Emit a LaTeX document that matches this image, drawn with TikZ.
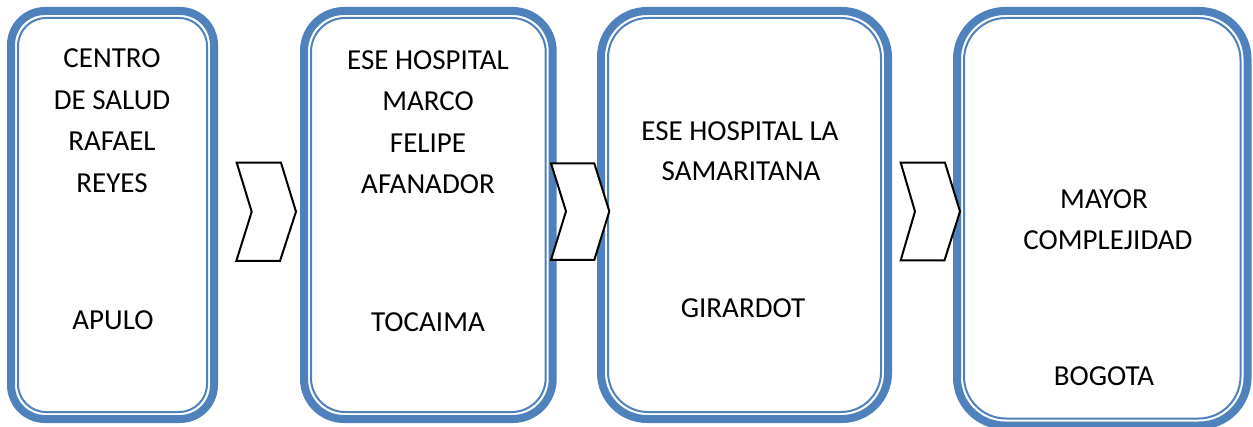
\documentclass[tikz,border=0pt]{standalone}
\usepackage{fontspec}
\setmainfont{Carlito}
\definecolor{boxblue}{HTML}{4F81BD}
\begin{document}
\begin{tikzpicture}[x=0.5pt,y=-0.5pt,
  outerbox/.style={draw=boxblue,line width=4pt,rounded corners=#1,inner sep=0pt,fill=white},
  innerbox/.style={draw=boxblue,line width=1pt,rounded corners=#1},
  chev/.style={draw=black,line width=1pt,fill=white,line join=miter},
  lbl/.style={anchor=base,inner sep=0pt,font=\fontsize{14.5pt}{17pt}\selectfont}]
\useasboundingbox (0,0) rectangle (1253,427);
% boxes
\draw[outerbox=17pt] (11,11) rectangle (214,419);
\draw[innerbox=14pt] (18,18) rectangle (207,412);
\draw[outerbox=20pt] (304,11) rectangle (552.7,419);
\draw[innerbox=17pt] (311,18) rectangle (545.7,412);
\draw[outerbox=23pt] (601,11) rectangle (888,419);
\draw[innerbox=20pt] (608,18) rectangle (881,412);
\draw[outerbox=24pt] (957,11) rectangle (1247.5,425.5);
\draw[innerbox=21pt] (964,18) rectangle (1240.5,418.5);
% chevrons
\draw[chev] (236.7,162.7) -- (281,162.7) -- (296,211.7) -- (280,261) -- (236.3,261) -- (251.7,211.7) -- cycle;
\draw[chev] (551,163.3) -- (594.3,163.3) -- (609.3,211.3) -- (594.3,260) -- (551,260) -- (566,211.3) -- cycle;
\draw[chev] (900.7,162.7) -- (945,162.7) -- (960,211.5) -- (944.5,260.3) -- (900.7,260.3) -- (915,211.5) -- cycle;
% texts box 1
\node[lbl] (a1) at (112,68) {CENTRO};
\node[lbl] (a2) at (112,109.5) {DE SALUD};
\node[lbl] (a3) at (112,151) {RAFAEL};
\node[lbl] (a4) at (112,192.5) {REYES};
\node[lbl] (a5) at (113,329) {APULO};
% box 2
\node[lbl] (b1) at (428,70) {ESE HOSPITAL};
\node[lbl] (b2) at (428,111) {MARCO};
\node[lbl] (b3) at (428,152.5) {FELIPE};
\node[lbl] (b4) at (428,194) {AFANADOR};
\node[lbl] (b5) at (428,331) {TOCAIMA};
% box 3
\node[lbl] (c1) at (740,141) {ESE HOSPITAL LA};
\node[lbl] (c2) at (741,181) {SAMARITANA};
\node[lbl] (c3) at (743,318) {GIRARDOT};
% box 4
\node[lbl] (d1) at (1104,209) {MAYOR};
\node[lbl] (d2) at (1108,250) {COMPLEJIDAD};
\node[lbl] (d3) at (1104,386) {BOGOTA};
\end{tikzpicture}
\end{document}
